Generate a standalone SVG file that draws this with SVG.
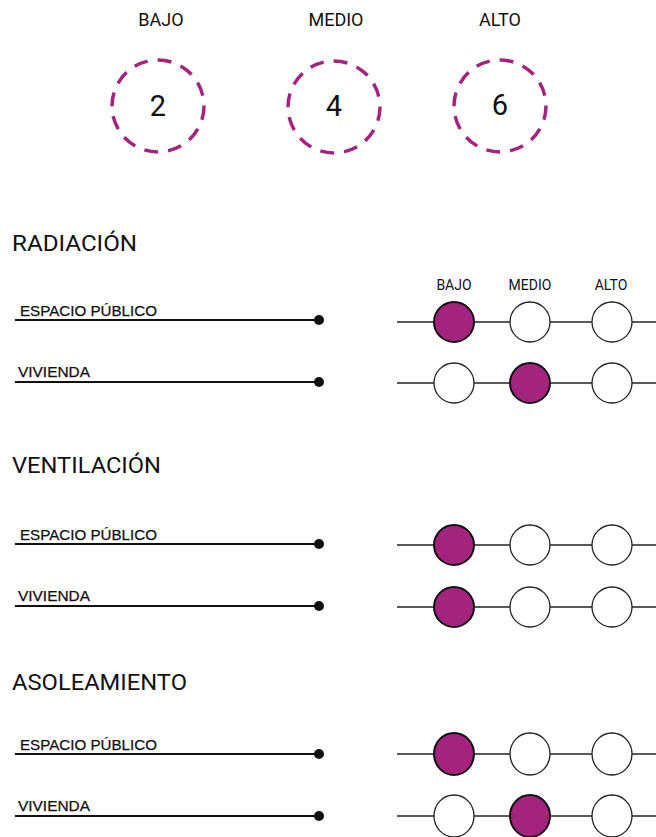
<svg xmlns="http://www.w3.org/2000/svg" width="656" height="837" viewBox="0 0 656 837">
<style>
.bg{fill:#ffffff}
.lvl{font-family:"Roboto","Liberation Sans",sans-serif;font-size:18px;fill:#111;text-anchor:middle}
.num{font-family:"Roboto","Liberation Sans",sans-serif;font-size:29px;fill:#111;text-anchor:middle}
.dash{fill:none;stroke:#a3237f;stroke-width:3.5;stroke-dasharray:14 10}
.head{font-family:"Roboto","Liberation Sans",sans-serif;font-size:22px;fill:#111}
.row{font-family:"Liberation Sans",sans-serif;font-size:14px;fill:#111;stroke:#111;stroke-width:0.25}
.small{font-family:"Roboto","Liberation Sans",sans-serif;font-size:14px;fill:#111;text-anchor:middle}
.lline{stroke:#111;stroke-width:2.2}
.rline{stroke:#222;stroke-width:1.3}
.off{fill:#fff;stroke:#222;stroke-width:1.3}
.on{fill:#a3237f;stroke:#111;stroke-width:2}
</style>
<rect class="bg" x="0" y="0" width="656" height="837"/>
<g id="legend">
<g id="legend-bajo"><text class="lvl" x="161" y="26">BAJO</text><circle class="dash" cx="158" cy="106" r="46"/><text class="num" x="158" y="116">2</text></g>
<g id="legend-medio"><text class="lvl" x="336" y="26">MEDIO</text><circle class="dash" cx="334" cy="107" r="46"/><text class="num" x="334" y="116">4</text></g>
<g id="legend-alto"><text class="lvl" x="500" y="26">ALTO</text><circle class="dash" cx="500" cy="106" r="46"/><text class="num" x="500" y="115">6</text></g>
</g>
<g id="connectors">
<line class="lline" x1="15" y1="320" x2="319" y2="320"/><circle cx="319" cy="320" r="5" fill="#111"/>
<line class="lline" x1="15" y1="382" x2="319" y2="382"/><circle cx="319" cy="382" r="5" fill="#111"/>
<line class="lline" x1="15" y1="544" x2="319" y2="544"/><circle cx="319" cy="544" r="5" fill="#111"/>
<line class="lline" x1="15" y1="606" x2="319" y2="606"/><circle cx="319" cy="606" r="5" fill="#111"/>
<line class="lline" x1="15" y1="754" x2="319" y2="754"/><circle cx="319" cy="754" r="5" fill="#111"/>
<line class="lline" x1="15" y1="816" x2="319" y2="816"/><circle cx="319" cy="816" r="5" fill="#111"/>
<line class="rline" x1="397" y1="322" x2="656" y2="322"/>
<line class="rline" x1="397" y1="383" x2="656" y2="383"/>
<line class="rline" x1="397" y1="545" x2="656" y2="545"/>
<line class="rline" x1="397" y1="607" x2="656" y2="607"/>
<line class="rline" x1="397" y1="754" x2="656" y2="754"/>
<line class="rline" x1="397" y1="816" x2="656" y2="816"/>
</g>
<g id="radiacion">
<text class="head" x="12" y="251" textLength="125" lengthAdjust="spacingAndGlyphs">RADIACIÓN</text>
<text class="small" x="454" y="290">BAJO</text><text class="small" x="530" y="290">MEDIO</text><text class="small" x="611" y="290">ALTO</text>
<g id="rad-ep"><text class="row" x="20" y="316" textLength="137" lengthAdjust="spacingAndGlyphs">ESPACIO PÚBLICO</text>
<circle class="on" cx="454" cy="322" r="20"/><circle class="off" cx="530" cy="322" r="20"/><circle class="off" cx="612" cy="322" r="20"/></g>
<g id="rad-viv"><text class="row" x="18" y="377" textLength="72" lengthAdjust="spacingAndGlyphs">VIVIENDA</text>
<circle class="off" cx="454" cy="383" r="20"/><circle class="on" cx="530" cy="383" r="20"/><circle class="off" cx="612" cy="383" r="20"/></g>
</g>
<g id="ventilacion">
<text class="head" x="12" y="473" textLength="149" lengthAdjust="spacingAndGlyphs">VENTILACIÓN</text>
<g id="ven-ep"><text class="row" x="20" y="540" textLength="137" lengthAdjust="spacingAndGlyphs">ESPACIO PÚBLICO</text>
<circle class="on" cx="454" cy="545" r="20"/><circle class="off" cx="530" cy="545" r="20"/><circle class="off" cx="612" cy="545" r="20"/></g>
<g id="ven-viv"><text class="row" x="18" y="601" textLength="72" lengthAdjust="spacingAndGlyphs">VIVIENDA</text>
<circle class="on" cx="454" cy="607" r="20"/><circle class="off" cx="530" cy="607" r="20"/><circle class="off" cx="612" cy="607" r="20"/></g>
</g>
<g id="asoleamiento">
<text class="head" x="12" y="690" textLength="175" lengthAdjust="spacingAndGlyphs">ASOLEAMIENTO</text>
<g id="aso-ep"><text class="row" x="20" y="750" textLength="137" lengthAdjust="spacingAndGlyphs">ESPACIO PÚBLICO</text>
<ellipse class="on" cx="454" cy="754" rx="20" ry="21"/><ellipse class="off" cx="530" cy="754" rx="20" ry="21"/><ellipse class="off" cx="612" cy="754" rx="20" ry="21"/></g>
<g id="aso-viv"><text class="row" x="18" y="811" textLength="72" lengthAdjust="spacingAndGlyphs">VIVIENDA</text>
<ellipse class="off" cx="454" cy="816" rx="20" ry="21"/><ellipse class="on" cx="530" cy="816" rx="20" ry="21"/><ellipse class="off" cx="612" cy="816" rx="20" ry="21"/></g>
</g>
</svg>
